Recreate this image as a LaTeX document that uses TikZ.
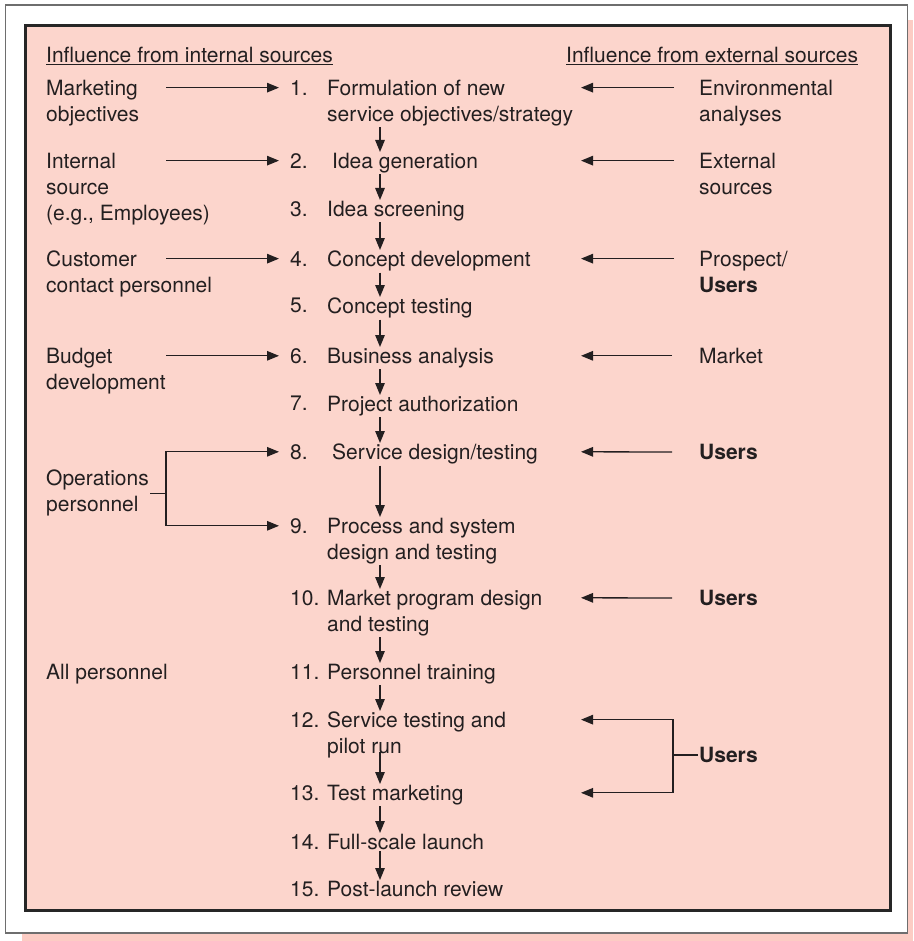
\documentclass[tikz,border=0pt]{standalone}
\usepackage{fontspec}
\setmainfont{TeX Gyre Heros}
\usepackage{xcolor}
\usetikzlibrary{arrows.meta, calc}

\definecolor{boxpink}{RGB}{252,213,204}
\definecolor{shadowpink}{RGB}{252,204,196}
\definecolor{ink}{RGB}{35,31,32}
\definecolor{framegray}{RGB}{110,110,110}

\tikzset{
    txt/.style={anchor=north west, inner sep=1pt, align=left, text=ink,
        font=\fontsize{21pt}{26pt}\selectfont},
    usertxt/.style={txt, font=\fontsize{21pt}{26pt}\selectfont\bfseries},
    flow/.style={draw=ink, line width=1.3pt, -{Triangle[length=12pt,width=9.5pt]}}
}

\begin{document}
\begin{tikzpicture}[x=1pt, y=-1pt]
    \useasboundingbox (0,0) rectangle (913,941);

    % shadow, white frame and pink box
    \fill[shadowpink] (22,20) rectangle (913,941);
    \draw[
        draw=framegray,
        fill=white,
        line width=1.5pt
    ] (5.5,5) rectangle (907.5,933);
    \draw[
        draw=black!85,
        fill=boxpink,
        line width=3pt
    ] (25,26) rectangle (890,910.5);

    % columns for the connectors
    \coordinate (lA) at (166,0);
    \coordinate (col) at (380,0);
    \coordinate (rB) at (581,0);
    \coordinate (rbx) at (673,0);

    % headers
    \node[txt] (hint) at (45,46) {\underline{Influence from internal sources}};
    \node[txt] (hext) at (565,46) {\underline{Influence from external sources}};

    % step numbers
    \node[txt] (n1) at (289,79) {1.};
    \node[txt] (n2) at (289,152) {2.};
    \node[txt] (n3) at (289,200) {3.};
    \node[txt] (n4) at (289,250) {4.};
    \node[txt] (n5) at (289,297) {5.};
    \node[txt] (n6) at (289,347) {6.};
    \node[txt] (n7) at (289,395) {7.};
    \node[txt] (n8) at (289,443) {8.};
    \node[txt] (n9) at (289,517) {9.};
    \node[txt] (n10) at (289,589) {10.};
    \node[txt] (n11) at (289,663) {11.};
    \node[txt] (n12) at (289,711) {12.};
    \node[txt] (n13) at (289,784) {13.};
    \node[txt] (n14) at (289,833) {14.};
    \node[txt] (n15) at (289,880) {15.};

    % steps
    \node[txt] (s1) at (326,79) {Formulation of new\\service objectives/strategy};
    \node[txt] (s2) at (331,152) {Idea generation};
    \node[txt] (s3) at (326,200) {Idea screening};
    \node[txt] (s4) at (326,250) {Concept development};
    \node[txt] (s5) at (326,297) {Concept testing};
    \node[txt] (s6) at (326,347) {Business analysis};
    \node[txt] (s7) at (326,395) {Project authorization};
    \node[txt] (s8) at (331,443) {Service design/testing};
    \node[txt] (s9) at (326,517) {Process and system\\design and testing};
    \node[txt] (s10) at (326,589) {Market program design\\and testing};
    \node[txt] (s11) at (326,663) {Personnel training};
    \node[txt] (s12) at (326,711) {Service testing and\\pilot run};
    \node[txt] (s13) at (326,784) {Test marketing};
    \node[txt] (s14) at (326,833) {Full-scale launch};
    \node[txt] (s15) at (326,880) {Post-launch review};

    % internal sources
    \node[txt] (m1) at (45,79) {Marketing\\objectives};
    \node[txt] (m2) at (45,152) {Internal\\source\\(e.g., Employees)};
    \node[txt] (m4) at (45,250) {Customer\\contact personnel};
    \node[txt] (m6) at (45,347) {Budget\\development};
    \node[txt] (ops) at (45,469) {Operations\\personnel};
    \node[txt] (allp) at (45,663) {All personnel};

    % external sources
    \node[txt] (e1) at (698,79) {Environmental\\analyses};
    \node[txt] (e2) at (698,152) {External\\sources};
    \node[txt] (e4) at (698,250) {Prospect/\\\textbf{Users}};
    \node[txt] (e6) at (698,347) {Market};
    \node[usertxt] (e8) at (698,443) {Users};
    \node[usertxt] (e10) at (698,589) {Users};
    \node[usertxt] (e12) at (698,746) {Users};

    % flow between steps
    \foreach \a/\b in {1/2,2/3,3/4,4/5,5/6,6/7,7/8,8/9,9/10,10/11,11/12,13/14,14/15}
        \draw[flow] (s\a.south -| col) -- (s\b.north -| col);
    \draw[flow] ([yshift=8pt]s12.south -| col) -- (s13.north -| col);

    % internal influences
    \foreach \k in {1,2,4,6}
        \draw[flow] (n\k.west -| lA) -- ([xshift=-10pt]n\k.west);
    \draw[flow] (ops.east) -- (ops.east -| lA) |- ([xshift=-10pt]n8.west);
    \draw[flow] (ops.east -| lA) |- ([xshift=-10pt]n9.west);

    % external influences
    \draw[flow] ([xshift=-24pt]e1.west |- n1.west) -- (n1.west -| rB);
    \draw[flow] ([xshift=-24pt]e2.west |- n2.west) -- (n2.west -| rB);
    \draw[flow] ([xshift=-24pt]e4.west |- n4.west) -- (n4.west -| rB);
    \draw[flow] ([xshift=-26pt]e6.west |- n6.west) -- (n6.west -| rB);
    \draw[flow] ([xshift=-26pt]e8.west) -- (n8.west -| rB);
    \draw[flow] ([xshift=-26pt]e10.west) -- (n10.west -| rB);
    \draw[flow] (e12.west) -- (e12.west -| rbx) |- (n12.west -| rB);
    \draw[flow] (e12.west -| rbx) |- (n13.west -| rB);
\end{tikzpicture}
\end{document}
